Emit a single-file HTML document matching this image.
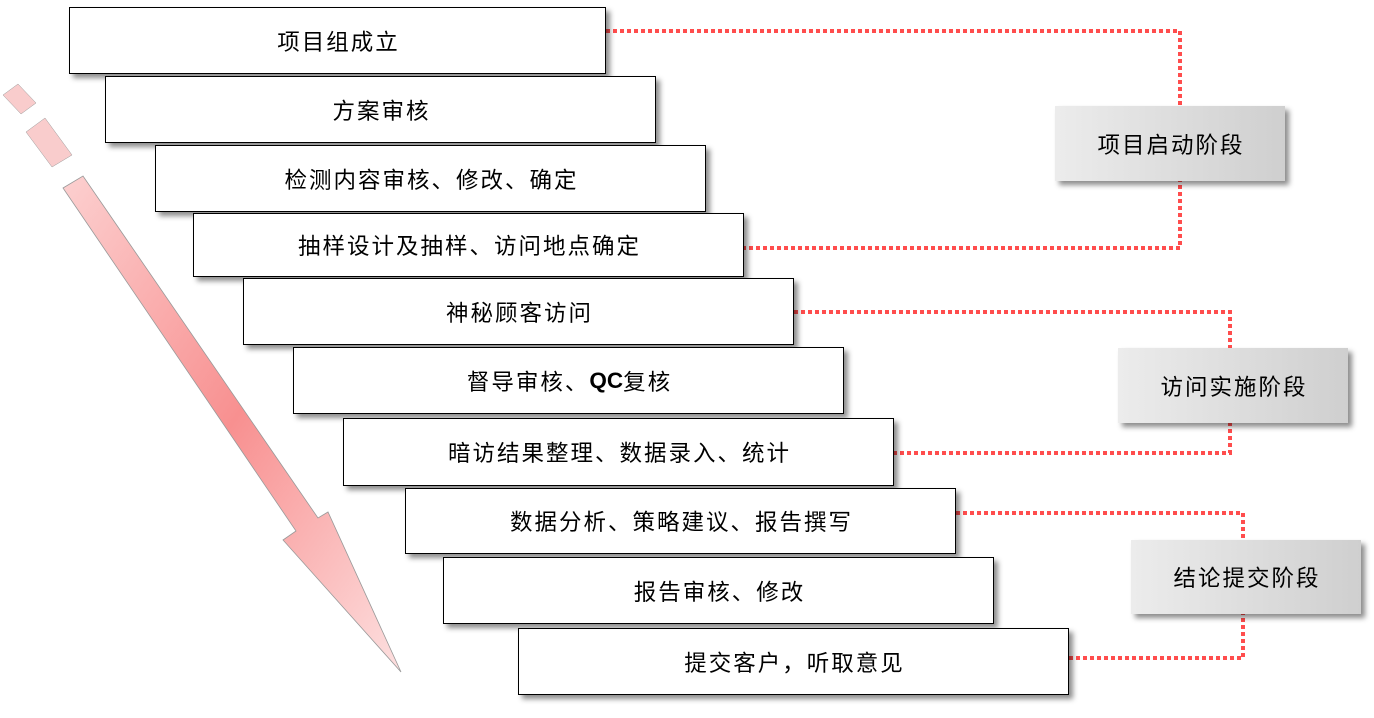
<!DOCTYPE html>
<html><head><meta charset="utf-8"><style>
body{margin:0;width:1374px;height:718px;background:#fff;position:relative;overflow:hidden;font-family:"Liberation Sans","Noto Sans CJK SC",sans-serif;}
.b{position:absolute;background:#fff;border:1.5px solid #000;box-sizing:border-box;box-shadow:4px 4px 5px rgba(0,0,0,0.45);display:flex;align-items:center;justify-content:center;font-size:22.5px;color:#000;letter-spacing:2px;padding-left:2px;}
.s{position:absolute;background:linear-gradient(90deg,#ececec,#cfcfcf);box-shadow:4px 4px 5px rgba(0,0,0,0.45);display:flex;align-items:center;justify-content:center;font-size:22.5px;color:#000;letter-spacing:2px;padding-left:2px;box-sizing:border-box;}
svg{position:absolute;left:0;top:0;}
</style></head><body>
<svg width="1374" height="718">
<defs>
<linearGradient id="g" x1="0" y1="0" x2="1" y2="1" gradientUnits="objectBoundingBox">
<stop offset="0" stop-color="#fcd0d0"/><stop offset="0.5" stop-color="#f89090"/><stop offset="1" stop-color="#fde0e0"/>
</linearGradient>
</defs>
<polygon points="3,95 18,84 36,103 21,114" fill="#f9cccc" stroke="#999" stroke-width="0.5"/>
<polygon points="26,132 45,118 72,155 52,167" fill="#f9cccc" stroke="#999" stroke-width="0.5"/>
<polygon points="63,188 83,176 318,518 328,512 401,672 283,540 296,531" fill="url(#g)" stroke="#999" stroke-width="0.8"/>
<g fill="none" stroke="#ff4d4d" stroke-width="4" stroke-dasharray="4 3">
<polyline points="606,31 1180,31 1180,248 744,248"/>
<polyline points="794,312 1230,312 1230,453 894,453"/>
<polyline points="956,513 1243,513 1243,658 1069,658"/>
</g>
</svg>
<div class="b" style="left:69px;top:7px;width:537px;height:67px">项目组成立</div>
<div class="b" style="left:105px;top:76px;width:551px;height:67px">方案审核</div>
<div class="b" style="left:155px;top:145px;width:551px;height:67px">检测内容审核、修改、确定</div>
<div class="b" style="left:193px;top:213px;width:551px;height:64px">抽样设计及抽样、访问地点确定</div>
<div class="b" style="left:243px;top:278px;width:551px;height:67px">神秘顾客访问</div>
<div class="b" style="left:293px;top:347px;width:551px;height:67px">督导审核、<b style="letter-spacing:0">QC</b>复核</div>
<div class="b" style="left:343px;top:418px;width:551px;height:68px">暗访结果整理、数据录入、统计</div>
<div class="b" style="left:405px;top:488px;width:551px;height:66px">数据分析、策略建议、报告撰写</div>
<div class="b" style="left:443px;top:557px;width:551px;height:67px">报告审核、修改</div>
<div class="b" style="left:518px;top:628px;width:551px;height:67px">提交客户，听取意见</div>
<div class="s" style="left:1055px;top:106px;width:230px;height:75px">项目启动阶段</div>
<div class="s" style="left:1118px;top:348px;width:230px;height:75px">访问实施阶段</div>
<div class="s" style="left:1131px;top:540px;width:230px;height:74px">结论提交阶段</div>
</body></html>
